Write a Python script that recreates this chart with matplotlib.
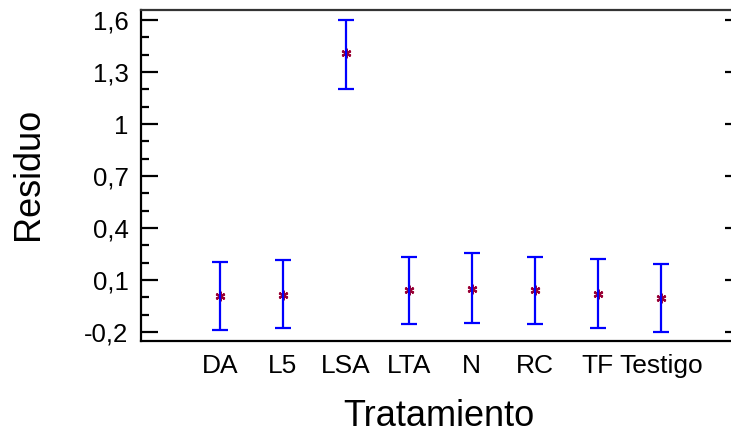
import matplotlib
matplotlib.use("Agg")
import matplotlib.pyplot as plt
import numpy as np
from matplotlib.ticker import MultipleLocator, FixedLocator, FuncFormatter

plt.rcParams['font.family'] = ['Liberation Sans', 'DejaVu Sans']

categories = ["DA", "L5", "LSA", "LTA", "N", "RC", "TF", "Testigo"]
means = [0.007, 0.016, 1.408, 0.041, 0.051, 0.041, 0.018, -0.003]
upper = [0.203, 0.213, 1.600, 0.233, 0.256, 0.233, 0.222, 0.191]
lower = [-0.190, -0.177, 1.200, -0.155, -0.145, -0.155, -0.177, -0.200]
yticks = [-0.2, 0.1, 0.4, 0.7, 1.0, 1.3, 1.6]

fig = plt.figure(figsize=(7.31, 4.33), dpi=100)
ax = fig.add_axes([141/731, 1 - 341/433, 1 - 141/731, 331/433])

x = np.arange(len(categories))
m = np.array(means)
yerr = np.vstack([m - np.array(lower), np.array(upper) - m])

ax.plot(x, m, linestyle='none', marker=(6, 2, 0), markersize=7,
        markeredgewidth=1.6, color='#990033', zorder=2)
ax.errorbar(x, m, yerr=yerr, fmt='none', ecolor='#0000FF', elinewidth=1.6,
            capsize=5.5, capthick=1.6, zorder=3)

ylim = (-0.2516, 1.658)
ax.set_xlim(-1.254, 8.116)
ax.set_ylim(*ylim)

ax.set_xticks(x)
ax.set_xticklabels(categories, fontsize=19, va='baseline')
ax.tick_params(axis='x', length=0, pad=23)

ax.yaxis.set_major_locator(FixedLocator(yticks))
ax.yaxis.set_minor_locator(MultipleLocator(0.1))
ax.yaxis.set_major_formatter(FuncFormatter(
    lambda v, p: ('%g' % round(v, 1)).replace('.', ',')))
ax.tick_params(axis='y', which='major', direction='in', length=12, width=1.6,
               labelsize=18.5, pad=9)
ax.tick_params(axis='y', which='minor', direction='in', length=6, width=1.6)

for s in ['left', 'bottom', 'top']:
    ax.spines[s].set_linewidth(1.6)
ax.spines['top'].set_color('#333333')
ax.spines['right'].set_visible(False)

# short right-side ticks
axr = ax.twinx()
axr.set_ylim(*ylim)
axr.yaxis.set_major_locator(FixedLocator(yticks))
axr.tick_params(axis='y', which='major', direction='in', length=4, width=1.6,
                labelright=False)
for s in axr.spines.values():
    s.set_visible(False)

ax.set_ylabel('Residuo', fontsize=26, va='center')
ax.yaxis.set_label_coords(-0.190, 0.5045)
ax.set_xlabel('Tratamiento', fontsize=26, va='center')
ax.xaxis.set_label_coords(0.505, -0.229)

fig.savefig('out.png', dpi=100)
